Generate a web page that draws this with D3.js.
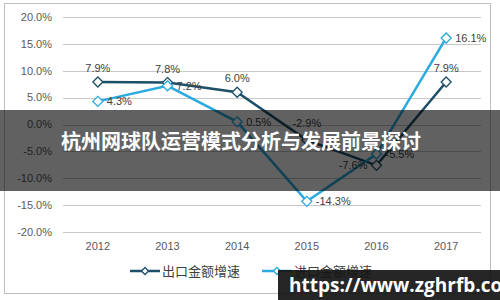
<!DOCTYPE html>
<meta charset="utf-8">
<style>
  body { margin: 0; background: #fff; }
  text { font-family: "Liberation Sans", Arial, "Noto Sans CJK SC", sans-serif; }
</style>
<body>
<script src="https://cdn.jsdelivr.net/npm/d3@7/dist/d3.min.js"></script>
<script>
// data
var years = ["2012", "2013", "2014", "2015", "2016", "2017"];
var exportGrowth = [7.9, 7.8, 6.0, -2.9, -7.6, 7.9];
var importGrowth = [4.3, 7.2, 0.5, -14.3, -5.5, 16.1];
var yTicks = [-20, -15, -10, -5, 0, 5, 10, 15, 20];
var seriesNames = ["出口金额增速", "进口金额增速"];
var titleText = "杭州网球队运营模式分析与发展前景探讨";
var watermark = "https://www.zghrfb.com";

var W = 500, H = 300;
var darkC = "#1d4f68", lightC = "#2aaae0";

var svg = d3.select("body").append("svg")
    .attr("width", W)
    .attr("height", H);

// outer frame
svg.append("rect")
    .attr("x", 4.5).attr("y", 3.5)
    .attr("width", 486).attr("height", 290)
    .attr("fill", "#fff")
    .attr("stroke", "#bfbfbf");

var x = d3.scalePoint().domain(years).range([63, 481]).padding(0.5);
var y = d3.scaleLinear().domain([-20, 20]).range([232, 17]);

// grid
svg.append("g").selectAll("line")
    .data(yTicks)
  .enter().append("line")
    .attr("x1", 63).attr("x2", 481)
    .attr("y1", function(d) { return Math.round(y(d)) + 0.5; })
    .attr("y2", function(d) { return Math.round(y(d)) + 0.5; })
    .attr("stroke", "#c8c8c8")
    .attr("stroke-width", 1);

// y labels
svg.append("g").selectAll("text")
    .data(yTicks)
  .enter().append("text")
    .attr("x", 52)
    .attr("y", function(d) { return y(d); })
    .attr("dy", "0.35em")
    .attr("text-anchor", "end")
    .attr("font-size", 11)
    .attr("fill", "#595959")
    .text(function(d) { return d.toFixed(1) + "%"; });

// x labels
svg.append("g").selectAll("text")
    .data(years)
  .enter().append("text")
    .attr("x", function(d) { return x(d); })
    .attr("y", 250)
    .attr("text-anchor", "middle")
    .attr("font-size", 11)
    .attr("fill", "#595959")
    .text(function(d) { return d; });

function diamond(g, cx, cy, color, r) {
  g.append("path")
    .attr("d", "M" + cx + "," + (cy - r) + "L" + (cx + r) + "," + cy +
               "L" + cx + "," + (cy + r) + "L" + (cx - r) + "," + cy + "Z")
    .attr("fill", "#fff")
    .attr("stroke", color)
    .attr("stroke-width", 1.3);
}

var line = d3.line()
    .x(function(d, i) { return x(years[i]); })
    .y(function(d) { return y(d); });

// label placement: "top", "right" or "left"
var exportPos = ["top", "top", "top", "top", "left", "top"];
var importPos = ["right", "right", "right", "right", "right", "right"];

function drawSeries(vals, color) {
  var g = svg.append("g");
  g.append("path")
    .datum(vals)
    .attr("d", line)
    .attr("fill", "none")
    .attr("stroke", color)
    .attr("stroke-width", 2.5);
  vals.forEach(function(v, i) {
    diamond(g, x(years[i]), y(v), color, 5);
  });
  return g;
}

function drawLabels(vals, pos, dys) {
  vals.forEach(function(v, i) {
    var t = svg.append("text")
      .attr("font-size", 11)
      .attr("fill", "#404040")
      .text(v.toFixed(1) + "%");
    if (pos[i] == "top") {
      t.attr("x", x(years[i]))
       .attr("y", y(v) - 10 + (dys ? dys[i] : 0))
       .attr("text-anchor", "middle");
    } else if (pos[i] == "left") {
      t.attr("x", x(years[i]) - 9)
       .attr("y", y(v) + 4)
       .attr("text-anchor", "end");
    } else {
      t.attr("x", x(years[i]) + 9)
       .attr("y", y(v) + 4)
       .attr("text-anchor", "start");
    }
  });
}

drawSeries(exportGrowth, darkC);
drawSeries(importGrowth, lightC);
drawLabels(exportGrowth, exportPos, [0, 0, 0, -3, 0, 0]);
drawLabels(importGrowth, importPos);

// legend
var legend = svg.append("g");
[[130, darkC, seriesNames[0]], [262, lightC, seriesNames[1]]].forEach(function(l) {
  legend.append("line")
    .attr("x1", l[0]).attr("x2", l[0] + 30)
    .attr("y1", 271).attr("y2", 271)
    .attr("stroke", l[1]).attr("stroke-width", 2.5);
  diamond(legend, l[0] + 15, 271, l[1], 3.5);
  legend.append("text")
    .attr("x", l[0] + 32).attr("y", 275.5)
    .attr("font-size", 13)
    .attr("fill", "#404040")
    .text(l[2]);
});

// title banner
svg.append("rect")
    .attr("x", 0).attr("y", 110)
    .attr("width", W).attr("height", 81)
    .attr("fill", "rgba(0,0,0,0.62)");
svg.append("text")
    .attr("x", 61).attr("y", 149)
    .attr("font-size", 20)
    .attr("font-weight", "bold")
    .attr("fill", "#fff")
    .style("font-family", "'Noto Sans CJK SC', sans-serif")
    .text(titleText);

// watermark
svg.append("rect")
    .attr("x", 278).attr("y", 270)
    .attr("width", 222).attr("height", 30)
    .attr("fill", "rgba(20,20,20,0.92)");
svg.append("text")
    .attr("x", 289).attr("y", 292)
    .attr("font-size", 19)
    .attr("font-weight", "bold")
    .attr("fill", "#fff")
    .style("font-family", "'Open Sans', sans-serif")
    .text(watermark);
</script>
</body>
